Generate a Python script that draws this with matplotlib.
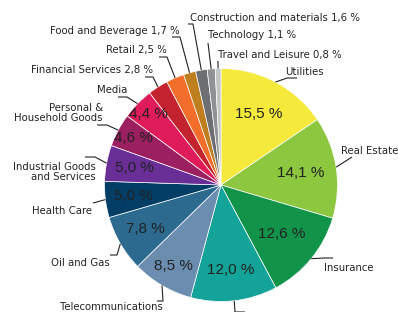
import matplotlib.pyplot as plt
import numpy as np

# sector shares in percent, clockwise from 12 o'clock
sectors = ["Utilities", "Real Estate", "Insurance", "", "Telecommunications",
           "Oil and Gas", "Health Care", "Industrial Goods\nand Services",
           "Personal &\nHousehold Goods", "Media", "Financial Services",
           "Retail", "Food and Beverage", "Construction and materials",
           "Technology", "Travel and Leisure"]
shares = [15.5, 14.1, 12.6, 12.0, 8.5, 7.8, 5.0, 5.0, 4.6, 4.4, 2.8, 2.5, 1.7, 1.6, 1.1, 0.8]
colors = ["#f5ea3b", "#8dc63f", "#12934a", "#14a398", "#6a8db0", "#2c6a8f",
          "#023d66", "#6a2f96", "#9c1f62", "#df1b5a", "#c3232f", "#f36e2b",
          "#c07f1e", "#6d6e72", "#8f9194", "#c3c4c6"]

W, H = 398, 312

def fmt(v):
    return ("%.1f" % v).replace(".", ",") + " %"

fig = plt.figure(figsize=(W / 100, H / 100), dpi=100)
ax = fig.add_axes([0, 0, 1, 1])

cx, cy, R = 221, H - 185, 116.5
wedges, _ = ax.pie(shares, colors=colors, startangle=90, counterclock=False,
                   center=(cx, cy), radius=R,
                   wedgeprops=dict(edgecolor="white", linewidth=0.5))

ax.set_xlim(0, W)
ax.set_ylim(0, H)
ax.set_aspect("equal")
ax.axis("off")

def mid(w):
    return np.deg2rad((w.theta1 + w.theta2) / 2)

# inside percentage labels: radius as a fraction of R
inner_r = [0.69, 0.69, 0.67, 0.73, 0.81, 0.75, 0.76, 0.76, 0.85, 0.87]
for w, v, f in zip(wedges, shares, inner_r):
    a = mid(w)
    ax.text(cx + f * R * np.cos(a), cy + f * R * np.sin(a), fmt(v),
            ha="center", va="center", fontsize=11, color="#222222",
            family="Liberation Sans")

# outer labels: leader elbow points and text anchors (image pixel coords)
leaders = [
    [(287, 78), (297, 78)],
    [(352, 157)],
    [(324, 258), (333, 258)],
    [(235, 312), (245, 312)],
    [(163, 301), (157, 301)],
    [(117, 255), (110, 255)],
    [(93, 203)],
    [(95, 157), (85, 157)],
    [(107, 125), (97, 125)],
    [(127, 97), (118, 97)],
    [(153, 77), (145, 77)],
    [(167, 57), (159, 57)],
    [(180, 37), (172, 37)],
    [(193, 24), (188, 24)],
    [(208, 43)],
    [(218, 61)],
]
anchors = [
    (304, 72, "center"), (341, 151, "left"), (324, 268, "left"), None,
    (60, 307, "left"), (110, 263, "right"), (92, 211, "right"),
    (96, 172, "right"), (103, 113, "right"), (127, 90, "right"),
    (153, 70, "right"), (167, 50, "right"), (180, 31, "right"),
    (190, 18, "left"), (208, 35, "left"), (218, 55, "left"),
]

for i, w in enumerate(wedges):
    a = mid(w)
    pts = [(cx + R * np.cos(a), cy + R * np.sin(a))]
    pts += [(x, H - y) for x, y in leaders[i]]
    xs, ys = zip(*pts)
    ax.plot(xs, ys, color="#222222", lw=0.8, solid_capstyle="butt")
    if anchors[i] is None:
        continue
    x, y, ha = anchors[i]
    txt = sectors[i]
    if shares[i] < 4:
        txt = txt + " " + fmt(shares[i])
    ax.text(x, H - y, txt, ha=ha, va="center", multialignment=ha,
            fontsize=7.3, color="#222222", family="DejaVu Sans",
            linespacing=0.95)

fig.savefig("out.png", dpi=100)
